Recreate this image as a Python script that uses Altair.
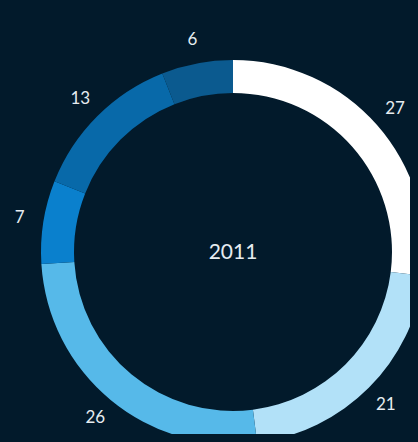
import altair as alt
import pandas as pd
import jinja2

values = [27, 21, 26, 7, 13, 6]
labels = ["27", "21", "26", "7", "13", "6"]
colors = ["#ffffff", "#b2e1f8", "#56b9e9", "#0a80cd", "#0869a9", "#0b5a8f"]
center_label = "2011"

df = pd.DataFrame({"label": labels, "value": values, "order": list(range(len(values)))})

BG = "#021a2b"
CX, CY = 225, 244

base = alt.Chart(df).encode(
    theta=alt.Theta("value:Q", stack=True),
    order=alt.Order("order:Q"),
    x=alt.value(CX),
    y=alt.value(CY),
)

arcs = base.mark_arc(innerRadius=159, outerRadius=192).encode(
    color=alt.Color("label:N", scale=alt.Scale(domain=labels, range=colors), legend=None)
)

text = base.mark_text(radius=216, font="Lato", fontSize=17, color="#e6ecf0").encode(
    text="label:N"
)

center = alt.Chart(pd.DataFrame({"t": [center_label]})).mark_text(
    font="Lato", fontSize=21, color="#e6ecf0"
).encode(text="t:N", x=alt.value(CX), y=alt.value(CY + 1))

chart = alt.layer(arcs, text, center).properties(
    width=402, height=426, background=BG, padding=0, autosize=alt.AutoSizeParams(type="none")
).configure_view(stroke=None)

page = jinja2.Template("""<!DOCTYPE html>
<html>
<head>
  <meta charset="utf-8">
  <style>
    html { overflow: hidden; background: """ + BG + """; }
    body { background: """ + BG + """; }
    svg { overflow: visible !important; }
  </style>
  <script src="{{ base_url }}/vega@{{ vega_version }}"></script>
  <script src="{{ base_url }}/vega-lite@{{ vegalite_version }}"></script>
  <script src="{{ base_url }}/vega-embed@{{ vegaembed_version }}"></script>
</head>
<body>
  <div id="{{ output_div }}"></div>
  <script>
    vegaEmbed("#{{ output_div }}", {{ spec }}, {{ embed_options }}).catch(console.error);
  </script>
</body>
</html>
""")

chart.save("out.html", embed_options={"renderer": "svg", "actions": False}, template=page)
